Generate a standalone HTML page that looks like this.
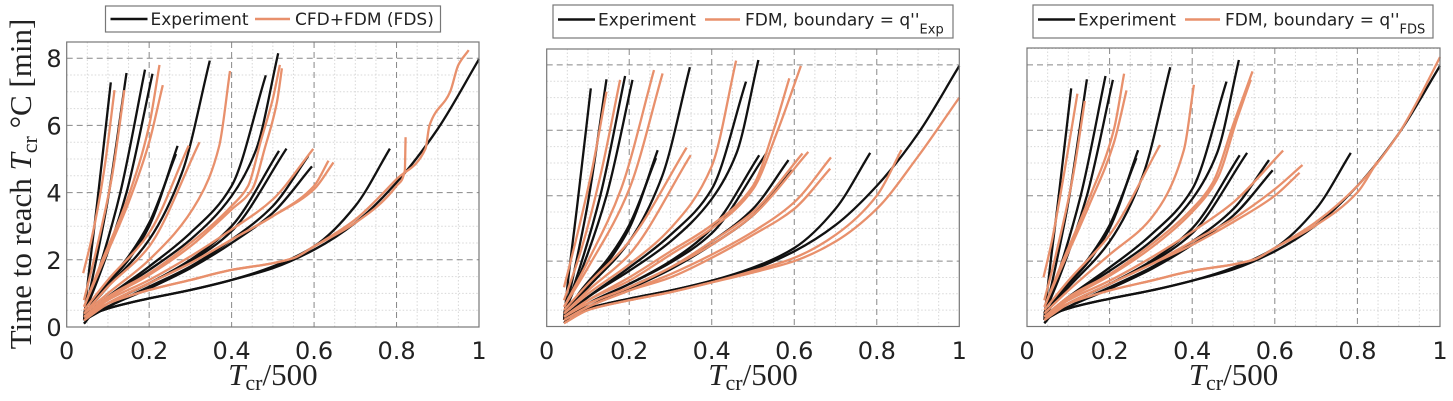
<!DOCTYPE html>
<html><head><meta charset="utf-8"><style>
html,body{margin:0;padding:0;background:#fff;}
svg{display:block;}
</style></head><body>
<svg id="chart" width="1453" height="401" viewBox="0 0 1453 401" xmlns="http://www.w3.org/2000/svg">
<text transform="translate(31,184) rotate(-90)" text-anchor="middle" font-family="Liberation Serif, serif" font-size="31" fill="#222">Time to reach <tspan font-style="italic">T</tspan><tspan font-size="22" dy="6">cr</tspan><tspan dy="-6"> °C  [min]</tspan></text>
</svg>
<script>
// ---- data ----
const xTicks = [0, 0.2, 0.4, 0.6, 0.8, 1];
const xTickLabels = ["0", "0.2", "0.4", "0.6", "0.8", "1"];
const yTicks = [0, 2, 4, 6, 8];
const yTickLabels = ["0", "2", "4", "6", "8"];

const expCurves = [
 [[.042,0.2],[.05,1.2],[.075,3.8],[.107,7.28]],
 [[.042,0.3],[.06,1.3],[.1,3.8],[.145,7.56]],
 [[.042,0.4],[.07,1.4],[.13,4.0],[.19,7.66]],
 [[.042,0.4],[.075,1.4],[.145,4.0],[.208,7.54]],
 [[.042,0.3],[.08,1.0],[.15,2.0],[.2,3.0],[.269,5.39]],
 [[.042,0.3],[.08,1.05],[.15,2.1],[.2,3.1],[.265,5.15]],
 [[.042,0.4],[.1,1.2],[.2,2.6],[.28,4.6],[.347,7.93]],
 [[.042,0.3],[.1,0.9],[.2,1.8],[.3,2.8],[.4,4.2],[.483,7.49]],
 [[.042,0.3],[.1,0.9],[.2,1.7],[.3,2.6],[.4,3.9],[.46,5.3],[.513,8.15]],
 [[.042,0.2],[.1,0.7],[.2,1.3],[.3,2.0],[.4,3.0],[.515,5.24]],
 [[.042,0.2],[.1,0.7],[.2,1.3],[.3,1.95],[.4,2.85],[.533,5.31]],
 [[.042,0.2],[.1,0.6],[.2,1.2],[.3,1.8],[.4,2.6],[.5,3.6],[.586,5.09]],
 [[.042,0.2],[.1,0.6],[.2,1.15],[.3,1.75],[.4,2.5],[.5,3.4],[.595,4.78]],
 [[.042,0.1],[.06,0.35],[.1,0.55],[.2,0.85],[.3,1.1],[.4,1.4],[.5,1.8],[.6,2.4],[.7,3.6],[.784,5.31]],
 [[.042,0.1],[.06,0.35],[.1,0.55],[.2,0.85],[.3,1.1],[.4,1.4],[.5,1.75],[.6,2.3],[.7,3.1],[.8,4.3],[.9,5.9],[1.0,7.97]]
];

const fdsCurves = [
 [[.04,1.6],[.06,2.6],[.09,4.6],[.116,7.05]],
 [[.042,0.8],[.07,2.2],[.11,4.5],[.14,7.05]],
 [[.042,0.6],[.08,1.8],[.15,3.9],[.2,6.0],[.225,7.8]],
 [[.042,0.6],[.08,1.7],[.15,3.7],[.2,5.5],[.233,7.2]],
 [[.042,0.5],[.1,1.4],[.2,2.8],[.296,5.4]],
 [[.042,0.4],[.1,1.2],[.2,2.4],[.322,5.5]],
 [[.042,0.4],[.1,1.0],[.2,2.0],[.32,3.8],[.37,5.4],[.396,7.62]],
 [[.042,0.3],[.1,0.9],[.2,1.6],[.3,2.5],[.4,3.6],[.44,4.2],[.47,5.5],[.5,6.8],[.517,7.8]],
 [[.042,0.3],[.1,0.85],[.2,1.55],[.3,2.4],[.4,3.5],[.45,4.1],[.48,5.3],[.51,6.7],[.522,7.7]],
 [[.042,0.3],[.1,0.8],[.2,1.4],[.3,2.1],[.4,2.9],[.5,3.8],[.598,5.3]],
 [[.042,0.2],[.1,0.7],[.2,1.3],[.3,1.9],[.4,2.6],[.5,3.3],[.6,4.2],[.635,4.95]],
 [[.042,0.2],[.1,0.7],[.2,1.3],[.3,1.9],[.4,2.6],[.5,3.3],[.6,4.1],[.647,4.9]],
 [[.042,0.3],[.1,0.7],[.2,1.1],[.3,1.4],[.4,1.7],[.5,1.9],[.55,2.05],[.6,2.4],[.7,3.1],[.8,4.2],[.82,4.65],[.822,5.65]],
 [[.042,0.3],[.1,0.7],[.2,1.1],[.3,1.4],[.4,1.7],[.5,1.9],[.55,2.05],[.6,2.4],[.7,3.2],[.8,4.4],[.87,5.3],[.88,6.0],[.93,7.0],[.95,7.8],[.975,8.24]]
];

const fdmExpCurves = [
 [[.042,1.2],[.07,2.6],[.11,4.8],[.145,7.18]],
 [[.042,0.8],[.08,2.2],[.13,4.6],[.178,7.54]],
 [[.042,0.6],[.1,2.0],[.18,4.2],[.26,7.84]],
 [[.042,0.6],[.1,1.8],[.2,4.2],[.281,7.74]],
 [[.042,0.5],[.1,1.3],[.2,2.6],[.339,5.47]],
 [[.042,0.4],[.1,1.1],[.2,2.2],[.349,5.24]],
 [[.042,0.4],[.1,1.0],[.2,1.9],[.3,3.0],[.4,4.9],[.459,8.13]],
 [[.042,0.3],[.1,0.8],[.2,1.5],[.3,2.3],[.4,3.1],[.5,4.3],[.55,6.0],[.588,7.59]],
 [[.042,0.3],[.1,0.8],[.2,1.4],[.3,2.2],[.4,3.0],[.5,4.2],[.56,6.0],[.616,7.97]],
 [[.042,0.3],[.1,0.7],[.2,1.2],[.3,1.8],[.4,2.6],[.5,3.5],[.62,5.29]],
 [[.042,0.3],[.1,0.7],[.2,1.2],[.3,1.8],[.4,2.5],[.5,3.4],[.634,5.34]],
 [[.042,0.2],[.1,0.6],[.2,1.1],[.3,1.6],[.4,2.2],[.5,2.9],[.6,3.8],[.689,5.17]],
 [[.042,0.2],[.1,0.6],[.2,1.1],[.3,1.5],[.4,2.1],[.5,2.8],[.6,3.6],[.687,4.83]],
 [[.042,0.1],[.1,0.5],[.2,0.8],[.3,1.05],[.4,1.35],[.5,1.7],[.6,2.1],[.7,2.8],[.8,4.0],[.86,5.4]],
 [[.042,0.1],[.1,0.5],[.2,0.8],[.3,1.05],[.4,1.35],[.5,1.65],[.6,2.0],[.7,2.6],[.8,3.6],[.9,5.2],[1.0,7.0]]
];

const fdmFdsCurves = [
 [[.04,1.5],[.06,2.6],[.09,4.7],[.122,7.12]],
 [[.042,0.8],[.07,2.2],[.11,4.5],[.14,6.9]],
 [[.042,0.6],[.08,1.8],[.15,3.9],[.21,6.0],[.235,7.73]],
 [[.042,0.6],[.08,1.7],[.15,3.7],[.21,5.6],[.241,7.22]],
 [[.042,0.5],[.1,1.4],[.2,2.8],[.322,5.55]],
 [[.042,0.4],[.1,1.1],[.2,2.2],[.3,3.3],[.38,5.4],[.404,7.39]],
 [[.042,0.3],[.1,0.9],[.2,1.6],[.3,2.5],[.4,3.6],[.45,4.4],[.5,6.2],[.546,7.8]],
 [[.042,0.3],[.1,0.85],[.2,1.55],[.3,2.4],[.4,3.5],[.46,4.5],[.51,6.4],[.542,7.55]],
 [[.042,0.3],[.1,0.8],[.2,1.4],[.3,2.1],[.4,2.9],[.5,3.8],[.62,5.38]],
 [[.042,0.2],[.1,0.7],[.2,1.3],[.3,1.9],[.4,2.6],[.5,3.3],[.6,4.2],[.667,4.94]],
 [[.042,0.2],[.1,0.7],[.2,1.3],[.3,1.9],[.4,2.5],[.5,3.2],[.6,4.0],[.66,4.7]],
 [[.042,0.3],[.1,0.7],[.2,1.1],[.3,1.4],[.4,1.7],[.5,1.9],[.55,2.05],[.6,2.4],[.7,3.1],[.8,4.1],[.848,5.04]],
 [[.042,0.3],[.1,0.7],[.2,1.1],[.3,1.4],[.4,1.7],[.5,1.9],[.55,2.05],[.6,2.4],[.7,3.2],[.8,4.3],[.9,5.9],[.95,7.0],[1.0,8.24]]
];

// ---- drawing ----
const NS = "http://www.w3.org/2000/svg";
const svg = document.getElementById("chart");
const BLACK = "#111", ORANGE = "#E8906C";

function mk(tag, attrs, parent) {
  const e = document.createElementNS(NS, tag);
  for (const k in attrs) e.setAttribute(k, attrs[k]);
  (parent || svg).appendChild(e);
  return e;
}

// monotone cubic (Fritsch-Carlson) in pixel space, x increasing
function smoothPath(pts) {
  const n = pts.length;
  const dx = [], m = [], t = [];
  for (let i = 0; i < n - 1; i++) { dx[i] = pts[i+1][0] - pts[i][0]; m[i] = (pts[i+1][1] - pts[i][1]) / (dx[i] || 1e-6); }
  t[0] = m[0]; t[n-1] = m[n-2];
  for (let i = 1; i < n - 1; i++) {
    if (m[i-1] * m[i] <= 0) t[i] = 0;
    else { const w1 = 2*dx[i] + dx[i-1], w2 = dx[i] + 2*dx[i-1]; t[i] = (w1 + w2) / (w1 / m[i-1] + w2 / m[i]); }
  }
  let d = "M" + pts[0][0].toFixed(1) + "," + pts[0][1].toFixed(1);
  for (let i = 0; i < n - 1; i++) {
    const h = dx[i] / 3;
    d += " C" + (pts[i][0] + h).toFixed(1) + "," + (pts[i][1] + t[i]*h).toFixed(1) + " " +
         (pts[i+1][0] - h).toFixed(1) + "," + (pts[i+1][1] - t[i+1]*h).toFixed(1) + " " +
         pts[i+1][0].toFixed(1) + "," + pts[i+1][1].toFixed(1);
  }
  return d;
}

function panel(cfg) {
  const g = mk("g", {});
  
  
  const xs = v => cfg.x0 + v * (cfg.x1 - cfg.x0);
  const ys = v => cfg.yb - v * cfg.ppu;
  for (let v = 0.05; v < 1; v += 0.05) {
    if (Math.abs(v * 5 - Math.round(v * 5)) < 1e-6) continue;
    const l = mk("line", {x1: xs(v), x2: xs(v), y1: cfg.yt, y2: cfg.yb, stroke: "#d8d8d8", "stroke-width": 1, "stroke-dasharray": "1.5,2"}, g);
    
    
  }
  for (let v = 0.5; ys(v) > cfg.yt; v += 0.5) {
    if (Math.abs(v / 2 - Math.round(v / 2)) < 1e-6) continue;
    const l = mk("line", {x1: cfg.x0, x2: cfg.x1, y1: ys(v), y2: ys(v), stroke: "#d8d8d8", "stroke-width": 1, "stroke-dasharray": "1.5,2"}, g);
    
    
  }
  xTicks.forEach((v, i) => {
    if (i > 0 && i < xTicks.length - 1) {
      const l = mk("line", {x1: xs(v), x2: xs(v), y1: cfg.yt, y2: cfg.yb, stroke: "#888", "stroke-width": 1, "stroke-dasharray": "6,4"}, g);
      
      
    }
    const t = mk("text", {x: xs(v), y: 359, "text-anchor": "middle", "font-family": "DejaVu Sans, Liberation Sans, sans-serif", "font-size": 24, fill: "#222"}, g);
    t.textContent = xTickLabels[i];
    
    
  });
  yTicks.forEach((v, i) => {
    if (i > 0) {
      const l = mk("line", {x1: cfg.x0, x2: cfg.x1, y1: ys(v), y2: ys(v), stroke: "#888", "stroke-width": 1, "stroke-dasharray": "6,4"}, g);
      
      
    }
    if (cfg.yLabels) {
      const t = mk("text", {x: cfg.x0 - 5, y: ys(v) + 9, "text-anchor": "end", "font-family": "DejaVu Sans, Liberation Sans, sans-serif", "font-size": 24, fill: "#222"}, g);
      t.textContent = yTickLabels[i];
      
      
    }
  });
  const drawSet = (curves, color, nm) => curves.forEach(c => {
    const p = mk("path", {d: smoothPath(c.map(q => [xs(q[0]), ys(q[1])])), fill: "none", stroke: color, "stroke-width": 2.3, "stroke-linejoin": "round"}, g);
    
    
  });
  drawSet(expCurves, BLACK, 'experiment-curve');
  drawSet(cfg.model, ORANGE, 'model-curve');
  const f = mk("rect", {x: cfg.x0, y: cfg.yt, width: cfg.x1 - cfg.x0, height: cfg.yb - cfg.yt, fill: "none", stroke: "#777", "stroke-width": 1.2}, g);
  
  
  const xt = mk("text", {x: (cfg.x0 + cfg.x1) / 2, y: 385, "text-anchor": "middle", "font-family": "Liberation Serif, serif", "font-size": 31, fill: "#222"}, g);
  xt.innerHTML = '<tspan font-style="italic">T</tspan><tspan font-size="22" dy="5">cr</tspan><tspan dy="-5">/500</tspan>';
  
  
  const L = cfg.legend;
  const lg = mk("g", {}, g);
  
  
  mk("rect", {x: L.x, y: L.y, width: L.w, height: L.h, fill: "#fff", stroke: "#777", "stroke-width": 1.2}, lg);
  const ly = L.y + L.h / 2 + (L.sub ? -2 : 0);
  mk("line", {x1: L.x + 5, x2: L.x + 42, y1: ly, y2: ly, stroke: BLACK, "stroke-width": 2.5}, lg);
  const t1 = mk("text", {x: L.x + 45, y: ly + 6, "font-family": "DejaVu Sans, Liberation Sans, sans-serif", "font-size": 17, fill: "#222", textLength: 98, lengthAdjust: "spacingAndGlyphs"}, lg);
  t1.textContent = "Experiment";
  
  
  mk("line", {x1: L.ox, x2: L.ox + 35, y1: ly, y2: ly, stroke: ORANGE, "stroke-width": 2.5}, lg);
  const t2 = mk("text", {x: L.ox + 40, y: ly + 6, "font-family": "DejaVu Sans, Liberation Sans, sans-serif", "font-size": 17, fill: "#222"}, lg);
  t2.innerHTML = L.label;
  
  
}

panel({name: "panel-cfd-fdm", x0: 66.7, x1: 479, yt: 42, yb: 327, ppu: 33.6, yLabels: true, model: fdsCurves,
  legend: {x: 105.5, y: 6, w: 335, h: 26, ox: 255, label: "CFD+FDM (FDS)"}});
panel({name: "panel-fdm-exp", x0: 546.7, x1: 959.3, yt: 49, yb: 326.5, ppu: 32.7, yLabels: false, model: fdmExpCurves,
  legend: {x: 553, y: 5, w: 400, h: 33, sub: true, ox: 705, label: 'FDM, boundary = q\'\'<tspan font-size="13" dy="8">Exp</tspan>'}});
panel({name: "panel-fdm-fds", x0: 1027, x1: 1440, yt: 48, yb: 326.5, ppu: 32.7, yLabels: false, model: fdmFdsCurves,
  legend: {x: 1033, y: 5, w: 400, h: 33, sub: true, ox: 1185, label: 'FDM, boundary = q\'\'<tspan font-size="13" dy="8">FDS</tspan>'}});
</script>
</body></html>
